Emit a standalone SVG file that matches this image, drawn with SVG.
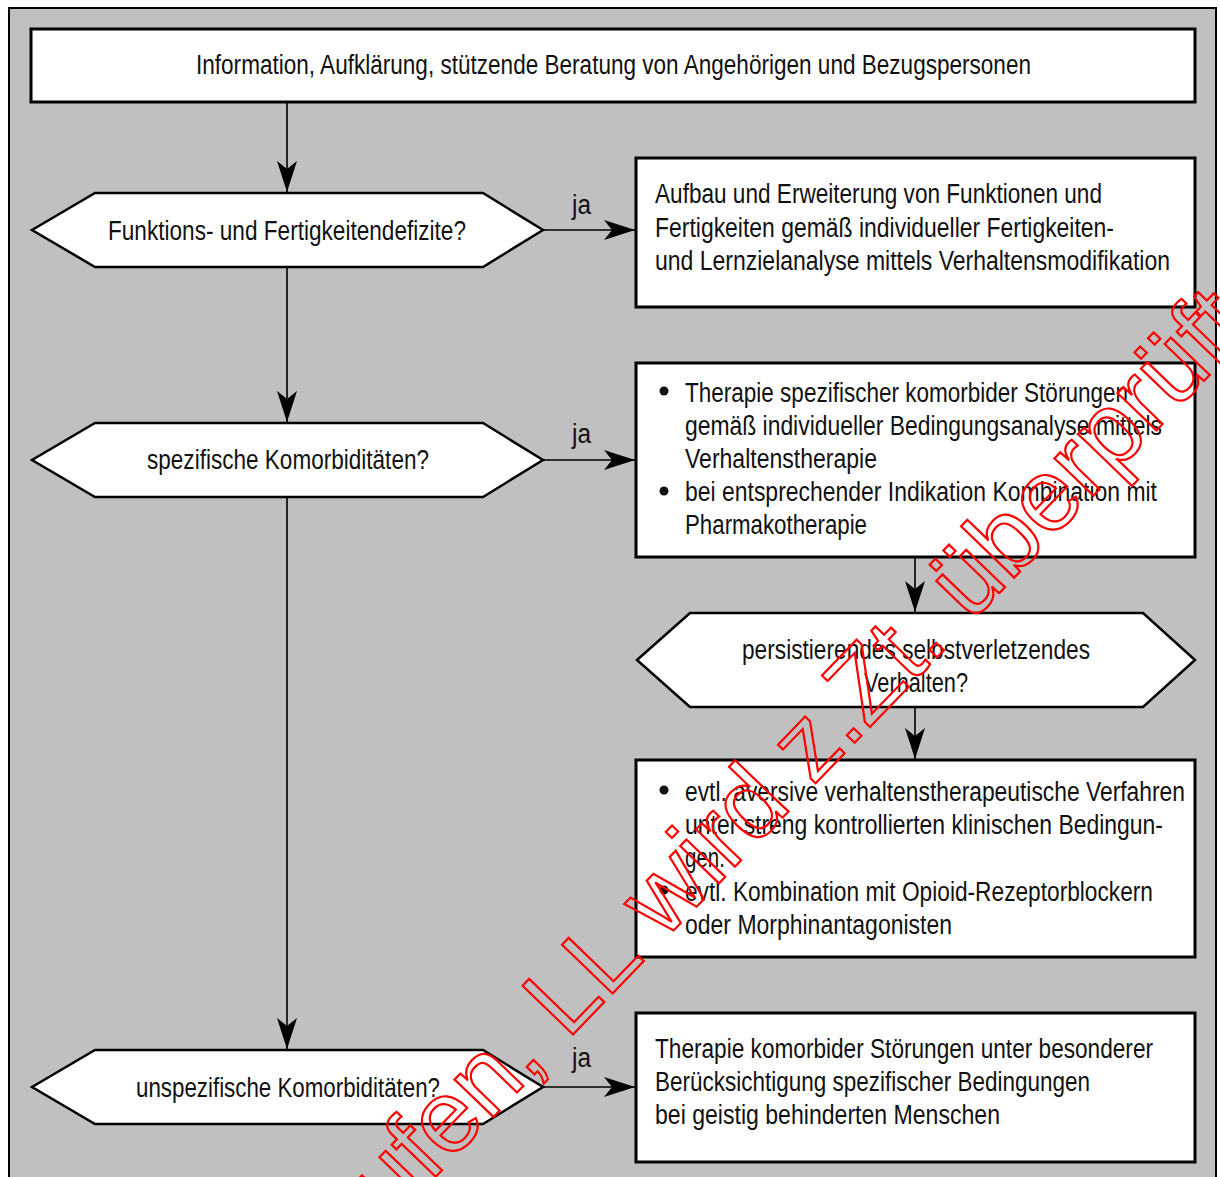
<svg xmlns="http://www.w3.org/2000/svg" width="1220" height="1177" viewBox="0 0 1220 1177">
<style>
.t{font-family:"Liberation Sans",Arial,sans-serif;font-size:27px;fill:#111;}
.box{fill:#fff;stroke:#000;stroke-width:3;}
.hex{fill:#fff;stroke:#000;stroke-width:2.5;stroke-linejoin:miter;}
.con{fill:none;stroke:#000;stroke-width:1.6;}
.wm{font-family:"Liberation Sans",Arial,sans-serif;font-size:102px;fill:none;stroke:#ff0000;stroke-width:2.2;}
</style>
<defs>
<marker id="ah" markerUnits="userSpaceOnUse" markerWidth="34" markerHeight="24" viewBox="-32 -12 34 24" refX="0" refY="0" orient="auto">
<path d="M0,0 L-31,-10 L-23,0 L-31,10 Z" fill="#000"/>
</marker>
</defs>
<rect x="0" y="0" width="1220" height="1177" fill="#fff"/>
<rect x="9" y="8" width="1207" height="1190" fill="#c0c0c0" stroke="#000" stroke-width="2"/>

<g id="connectors">
<line class="con" x1="287" y1="103" x2="287" y2="192" marker-end="url(#ah)"/>
<line class="con" x1="543" y1="230" x2="635" y2="230" marker-end="url(#ah)"/>
<line class="con" x1="287" y1="268" x2="287" y2="422" marker-end="url(#ah)"/>
<line class="con" x1="543" y1="460" x2="635" y2="460" marker-end="url(#ah)"/>
<line class="con" x1="915" y1="558" x2="915" y2="612" marker-end="url(#ah)"/>
<line class="con" x1="915" y1="708" x2="915" y2="759" marker-end="url(#ah)"/>
<line class="con" x1="287" y1="498" x2="287" y2="1049" marker-end="url(#ah)"/>
<line class="con" x1="543" y1="1087" x2="635" y2="1087" marker-end="url(#ah)"/>
<text class="t" x="572" y="214" textLength="19" lengthAdjust="spacingAndGlyphs">ja</text>
<text class="t" x="572" y="443" textLength="19" lengthAdjust="spacingAndGlyphs">ja</text>
<text class="t" x="572" y="1067" textLength="19" lengthAdjust="spacingAndGlyphs">ja</text>
</g>

<g id="n_info">
<rect class="box" x="31" y="29" width="1164" height="73"/>
<text class="t" x="196" y="74" textLength="835" lengthAdjust="spacingAndGlyphs">Information, Aufklärung, stützende Beratung von Angehörigen und Bezugspersonen</text>
</g>

<g id="n_dec1">
<polygon class="hex" points="32,230 95,193 483,193 543,230 483,267 95,267"/>
<text class="t" x="108" y="240" textLength="358" lengthAdjust="spacingAndGlyphs">Funktions- und Fertigkeitendefizite?</text>
</g>

<g id="n_aufbau">
<rect class="box" x="636" y="158" width="559" height="149"/>
<text class="t" x="655" y="203" textLength="447" lengthAdjust="spacingAndGlyphs">Aufbau und Erweiterung von Funktionen und</text>
<text class="t" x="655" y="237" textLength="459" lengthAdjust="spacingAndGlyphs">Fertigkeiten gemäß individueller Fertigkeiten-</text>
<text class="t" x="655" y="270" textLength="515" lengthAdjust="spacingAndGlyphs">und Lernzielanalyse mittels Verhaltensmodifikation</text>
</g>

<g id="n_dec2">
<polygon class="hex" points="32,460 95,423 483,423 543,460 483,497 95,497"/>
<text class="t" x="147" y="469" textLength="282" lengthAdjust="spacingAndGlyphs">spezifische Komorbiditäten?</text>
</g>

<g id="n_therapie">
<rect class="box" x="636" y="363" width="559" height="194"/>
<circle cx="664" cy="391" r="4.5" fill="#111"/>
<circle cx="664" cy="491" r="4.5" fill="#111"/>
<text class="t" x="685" y="402" textLength="443" lengthAdjust="spacingAndGlyphs">Therapie spezifischer komorbider Störungen</text>
<text class="t" x="685" y="435" textLength="477" lengthAdjust="spacingAndGlyphs">gemäß individueller Bedingungsanalyse mittels</text>
<text class="t" x="685" y="468" textLength="192" lengthAdjust="spacingAndGlyphs">Verhaltenstherapie</text>
<text class="t" x="685" y="501" textLength="472" lengthAdjust="spacingAndGlyphs">bei entsprechender Indikation Kombination mit</text>
<text class="t" x="685" y="534" textLength="182" lengthAdjust="spacingAndGlyphs">Pharmakotherapie</text>
</g>

<g id="n_dec3">
<polygon class="hex" points="637,660 690,613 1143,613 1195,660 1143,707 690,707"/>
<text class="t" x="742" y="659" textLength="348" lengthAdjust="spacingAndGlyphs">persistierendes selbstverletzendes</text>
<text class="t" x="864" y="692" textLength="104" lengthAdjust="spacingAndGlyphs">Verhalten?</text>
</g>

<g id="n_aversiv">
<rect class="box" x="636" y="760" width="559" height="197"/>
<circle cx="664" cy="790" r="4.5" fill="#111"/>
<circle cx="664" cy="890" r="4.5" fill="#111"/>
<text class="t" x="685" y="801" textLength="500" lengthAdjust="spacingAndGlyphs">evtl. aversive verhaltenstherapeutische Verfahren</text>
<text class="t" x="685" y="834" textLength="478" lengthAdjust="spacingAndGlyphs">unter streng kontrollierten klinischen Bedingun-</text>
<text class="t" x="685" y="867" textLength="40" lengthAdjust="spacingAndGlyphs">gen.</text>
<text class="t" x="685" y="901" textLength="468" lengthAdjust="spacingAndGlyphs">evtl. Kombination mit Opioid-Rezeptorblockern</text>
<text class="t" x="685" y="934" textLength="267" lengthAdjust="spacingAndGlyphs">oder Morphinantagonisten</text>
</g>

<g id="n_dec4">
<polygon class="hex" points="32,1087 95,1050 483,1050 543,1087 483,1124 95,1124"/>
<text class="t" x="136" y="1097" textLength="304" lengthAdjust="spacingAndGlyphs">unspezifische Komorbiditäten?</text>
</g>

<g id="n_unspez">
<rect class="box" x="636" y="1013" width="559" height="149"/>
<text class="t" x="655" y="1058" textLength="498" lengthAdjust="spacingAndGlyphs">Therapie komorbider Störungen unter besonderer</text>
<text class="t" x="655" y="1091" textLength="435" lengthAdjust="spacingAndGlyphs">Berücksichtigung spezifischer Bedingungen</text>
<text class="t" x="655" y="1124" textLength="345" lengthAdjust="spacingAndGlyphs">bei geistig behinderten Menschen</text>
</g>

<text class="wm" transform="translate(390,1224) rotate(-46)" x="0" y="0">ufen, LL wird z.Zt. überprüft</text>
</svg>
